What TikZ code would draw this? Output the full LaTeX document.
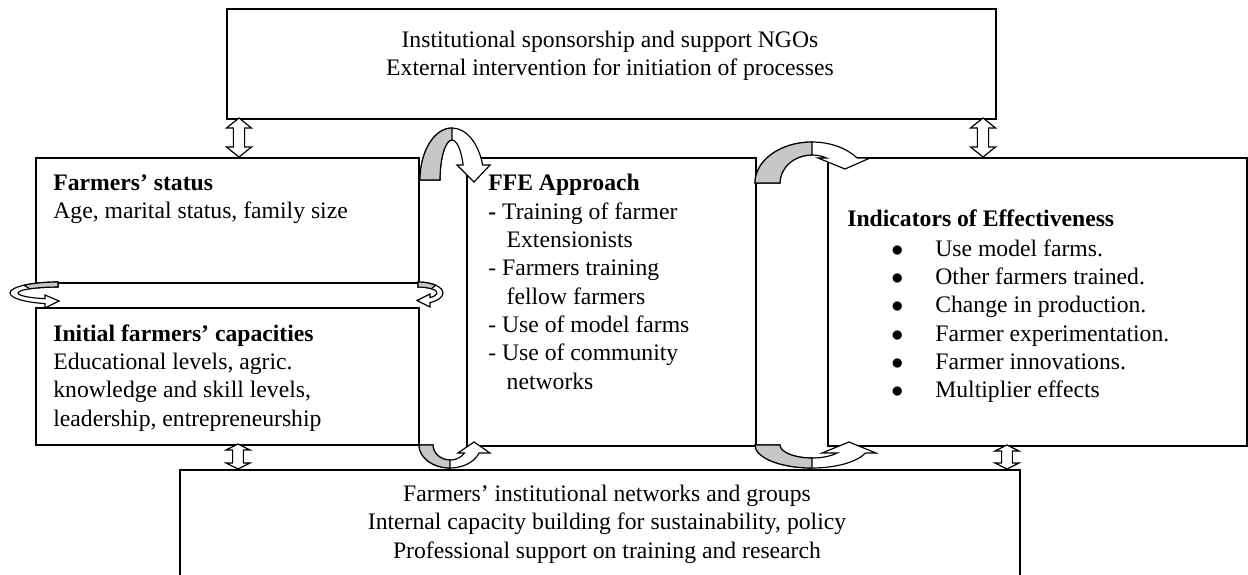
\documentclass[tikz,border=0pt]{standalone}
\usepackage{fontspec}
\setmainfont{Liberation Serif}
\usetikzlibrary{positioning}

% hollow up-down arrow: x, top y, bottom y, half width of head, head length
\newcommand{\updown}[5]{%
  \draw[band] (#1,#2) -- ++(#4,#5) -- ++(-0.55*#4,0) -- (#1+0.45*#4,#3-#5)
    -- ++(0.55*#4,0) -- (#1,#3) -- ++(-#4,-#5) -- ++(0.55*#4,0)
    -- (#1-0.45*#4,#2+#5) -- ++(-0.55*#4,0) -- cycle;}

\begin{document}
\begin{tikzpicture}[x=0.6pt, y=-0.6pt,
  box/.style={draw, line width=1.1pt, fill=white, anchor=north west, inner sep=0pt},
  txt/.style={inner sep=0pt, align=left, font=\fontsize{14.2}{17}\selectfont},
  band/.style={draw, line width=0.7pt, fill=white},
  back/.style={draw, line width=0.7pt, fill=black!22}]
\useasboundingbox (0,0) rectangle (1248,574);
\clip (0,0) rectangle (1248,574);

% Boxes
\node[box, minimum width=461.4pt, minimum height=66pt] (top) at (226,8) {};
\node[box, minimum width=229.8pt, minimum height=75pt] (fstat) at (35,157) {};
\node[box, minimum width=229.8pt, minimum height=82.2pt] (fcap) at (35,307) {};
\node[box, minimum width=173.4pt, minimum height=172.8pt] (ffe) at (466,157) {};
\node[box, minimum width=251.4pt, minimum height=172.8pt] (ind) at (827,157) {};
\node[box, minimum width=504pt, minimum height=90pt] (bot) at (179,469) {};

% Up-down arrows between the boxes
\updown{239}{118}{157}{12.5}{10}
\updown{983}{118}{157}{12.5}{10}
\updown{238}{444}{469}{12}{6}
\updown{1007}{445}{469}{12}{6}

% Curved arrow over the gap, status -> FFE
\draw[band] (420,180) arc[start angle=180, end angle=343.2, x radius=32, y radius=52]
  -- (490,165) -- (474,182) -- (457,165) -- (463.1,165)
  arc[start angle=338, end angle=180, x radius=12, y radius=40] -- cycle;
\draw[back] (420,180) arc[start angle=180, end angle=270, x radius=32, y radius=52]
  -- (452,140) arc[start angle=270, end angle=180, x radius=12, y radius=40] -- cycle;

% Curved arrow over the gap, FFE -> indicators
\draw[band] (755,183) arc[start angle=180, end angle=322.4, x radius=57, y radius=41]
  -- (870,158) -- (845,169) -- (818,158) -- (826.4,158)
  arc[start angle=296.8, end angle=180, x radius=32, y radius=28] -- cycle;
\draw[back] (755,183) arc[start angle=180, end angle=270, x radius=57, y radius=41]
  -- (812,155) arc[start angle=270, end angle=180, x radius=32, y radius=28] -- cycle;

% Curved arrow under the gap, capacities -> FFE
\draw[band] (419,445) arc[start angle=180, end angle=20.4, x radius=31, y radius=23]
  -- (490,453) -- (474,442) -- (458,453) -- (464.4,453)
  arc[start angle=32.2, end angle=180, x radius=17, y radius=15] -- cycle;
\draw[back] (419,445) arc[start angle=180, end angle=90, x radius=31, y radius=23]
  -- (450,460) arc[start angle=90, end angle=180, x radius=17, y radius=15] -- cycle;

% Curved arrow under the gap, FFE -> indicators
\draw[band] (755,445) arc[start angle=180, end angle=20.4, x radius=57, y radius=23]
  -- (876,453) -- (849,442) -- (822,453) -- (837.2,453)
  arc[start angle=38, end angle=180, x radius=32, y radius=13] -- cycle;
\draw[back] (755,445) arc[start angle=180, end angle=90, x radius=57, y radius=23]
  -- (812,458) arc[start angle=90, end angle=180, x radius=32, y radius=13] -- cycle;

% Loops between status and capacities
\draw[band] (58,282) arc[start angle=270, end angle=105.7, x radius=48, y radius=11]
  -- (45,308) -- (59,301) -- (45,295) -- (45,298.7)
  arc[start angle=108.97, end angle=270, x radius=40, y radius=6] -- cycle;
\draw[back] (58,282) arc[start angle=270, end angle=225, x radius=48, y radius=11]
  -- (29.7,288.8) arc[start angle=225, end angle=270, x radius=40, y radius=6] -- cycle;
\draw[band] (418,282) arc[start angle=270, end angle=421.3, x radius=25, y radius=11]
  -- (430,307) -- (417,300.5) -- (430,294) -- (430,297.6)
  arc[start angle=410.8, end angle=270, x radius=19, y radius=6] -- cycle;
\draw[back] (418,282) arc[start angle=270, end angle=315, x radius=25, y radius=11]
  -- (431.4,288.8) arc[start angle=315, end angle=270, x radius=19, y radius=6] -- cycle;

% Texts
\node[txt, align=center] (toptxt) at (610,56) {Institutional sponsorship and support NGOs\\
  External intervention for initiation of processes};
\node[txt, anchor=north west] (fstattxt) at ([xshift=10.8pt, yshift=-10.2pt]fstat.north west)
  {\textbf{Farmers’ status}\\ Age, marital status, family size};
\node[txt, anchor=north west] (fcaptxt) at ([xshift=10.8pt, yshift=-10.2pt]fcap.north west)
  {\textbf{Initial farmers’ capacities}\\ Educational levels, agric.\\
   knowledge and skill levels,\\ leadership, entrepreneurship};
\node[txt, anchor=north west] (ffetxt) at ([xshift=13.2pt, yshift=-10.2pt]ffe.north west)
  {\textbf{FFE Approach}\\ \textbf{-} Training of farmer\\ \hspace*{11pt}Extensionists\\
   - Farmers training\\ \hspace*{11pt}fellow farmers\\ - Use of model farms\\
   - Use of community\\ \hspace*{11pt}networks};
\node[txt, anchor=north west] (indtxt) at ([xshift=12pt, yshift=-31.2pt]ind.north west)
  {\textbf{Indicators of Effectiveness}};
\node[txt, anchor=north west] (indlist) at ([xshift=38.4pt, yshift=-49.2pt]ind.north west)
  {\makebox[26.4pt][l]{$\bullet$}Use model farms.\\
   \makebox[26.4pt][l]{$\bullet$}Other farmers trained.\\
   \makebox[26.4pt][l]{$\bullet$}Change in production.\\
   \makebox[26.4pt][l]{$\bullet$}Farmer experimentation.\\
   \makebox[26.4pt][l]{$\bullet$}Farmer innovations.\\
   \makebox[26.4pt][l]{$\bullet$}Multiplier effects};
\node[txt, align=center] (bottxt) at (607,524) {Farmers’ institutional networks and groups\\
  Internal capacity building for sustainability, policy\\
  Professional support on training and research};
\end{tikzpicture}
\end{document}
